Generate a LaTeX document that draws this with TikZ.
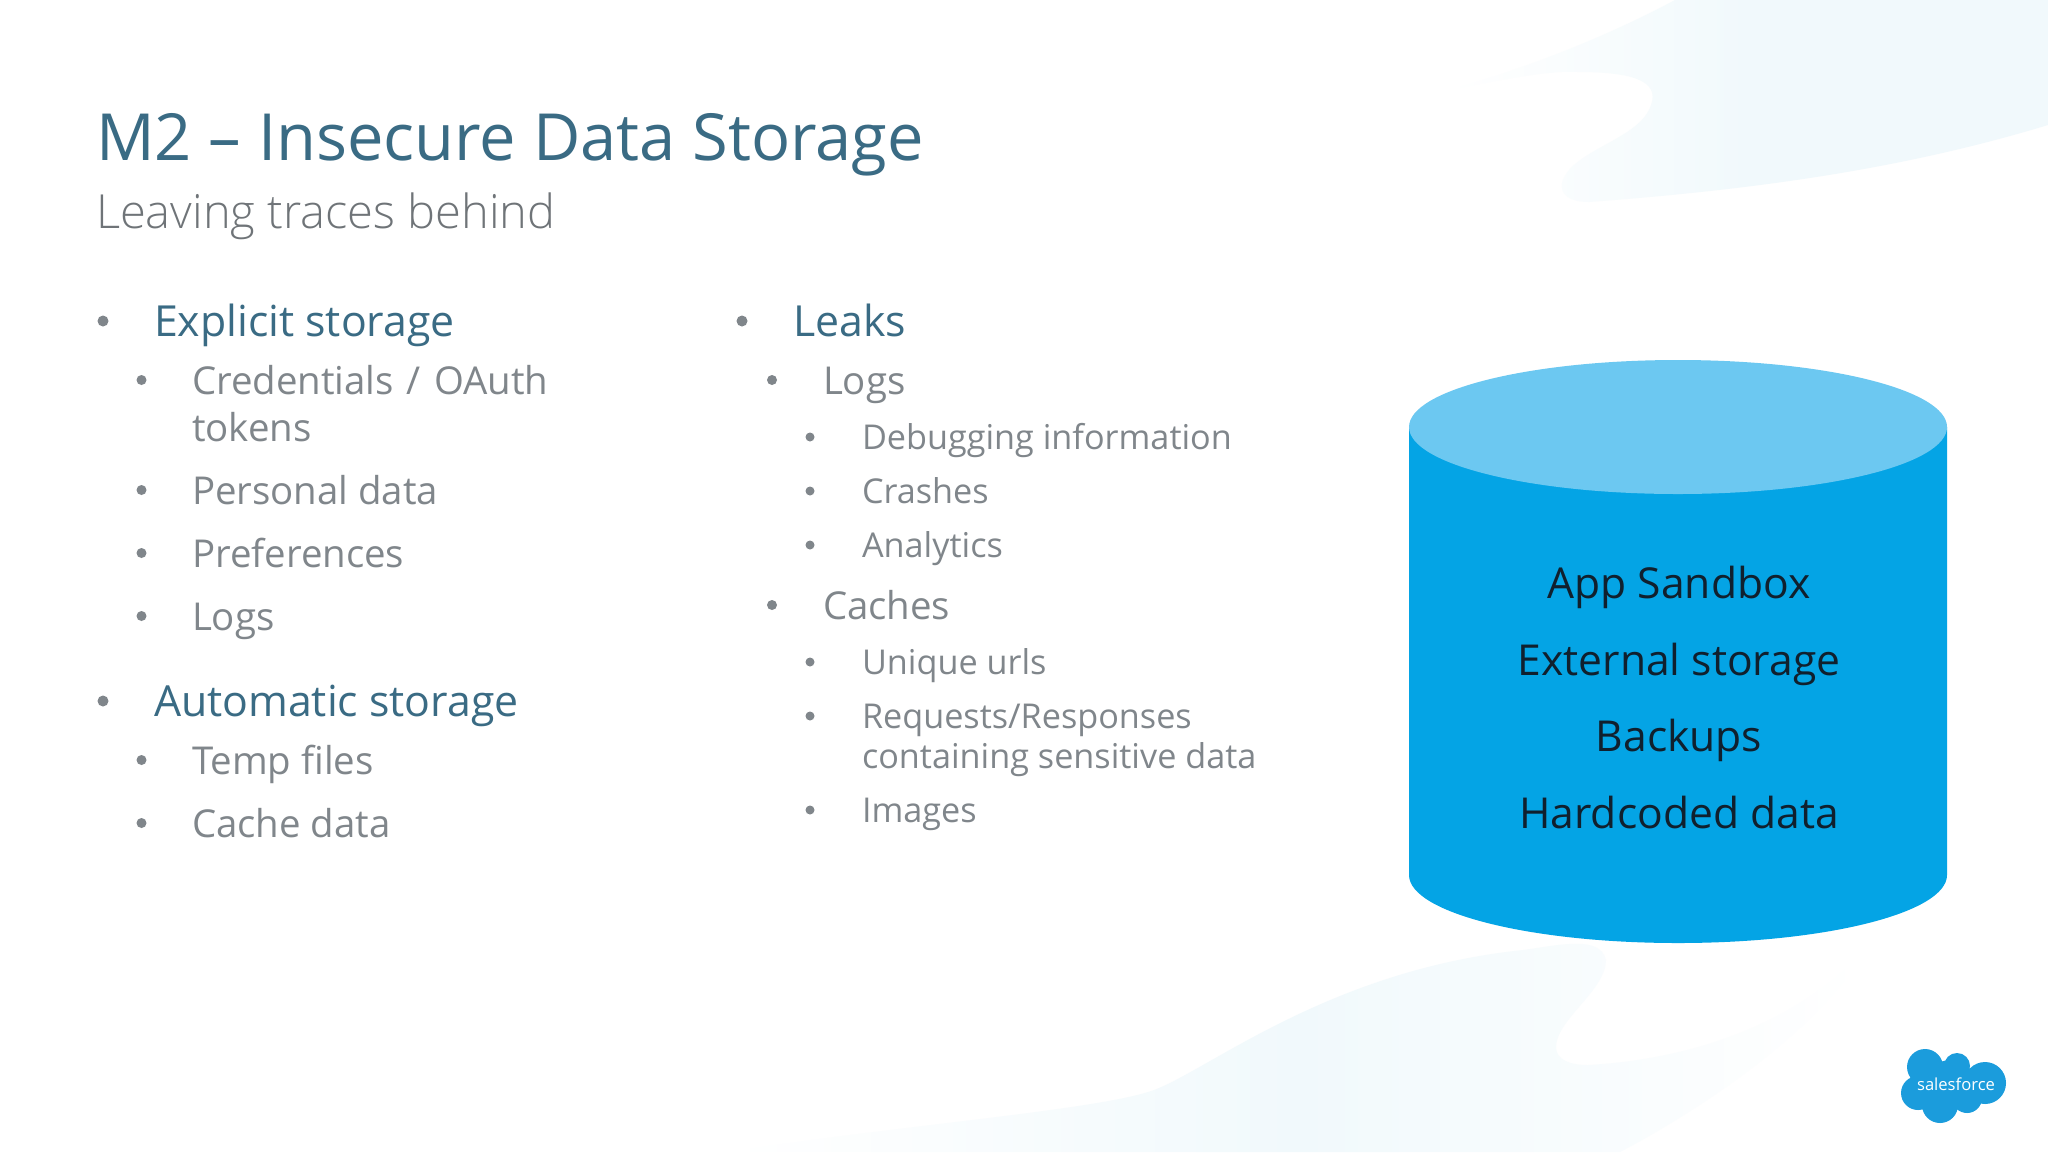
\documentclass[tikz,border=0pt]{standalone}
\usepackage{fontspec}
\setmainfont{Open Sans}
\newfontfamily\lightfont[UprightFont=* Light]{Open Sans}
\usepackage{tikz}
\definecolor{headblue}{HTML}{3A6B84}
\definecolor{itemgray}{HTML}{80868B}
\definecolor{subgray}{HTML}{6F7478}
\definecolor{dotgray}{HTML}{80868B}
\definecolor{sfblue}{HTML}{04A4E5}
\definecolor{sftop}{HTML}{6CC8F1}
\definecolor{cloudblue}{HTML}{1B9CDC}
\definecolor{inkdark}{HTML}{10202E}
\definecolor{wavepale}{HTML}{F1F9FC}

\begin{document}
\begin{tikzpicture}[x=0.5pt,y=-0.5pt,
      every node/.append style={inner sep=0pt,outer sep=0pt},
      title/.style={anchor=base west,text=headblue,font=\fontsize{32.5}{39}\selectfont},
      subtitle/.style={anchor=base west,text=subgray,font=\lightfont\fontsize{23.5}{28}\selectfont},
      head/.style={anchor=base west,text=headblue,font=\fontsize{21.4}{26}\selectfont},
      item/.style={anchor=base west,text=itemgray,font=\fontsize{19.2}{24}\selectfont},
      subitem/.style={anchor=base west,text=itemgray,font=\fontsize{17.1}{21}\selectfont},
      dot/.style={circle,fill=dotgray,minimum size=#1},
      store/.style={anchor=base,text=inkdark,font=\fontsize{21.3}{26}\selectfont}]
    \useasboundingbox (0,0) rectangle (2048,1152);
    \fill[white] (0,0) rectangle (2048,1152);
    \shade[left color=white,right color=wavepale,middle color=wavepale] (1675,0) .. controls (1600,40) and (1520,70) .. (1449,90) .. controls (1500,80) and (1550,70) .. (1578,72) .. controls (1630,72) and (1660,80) .. (1651,105) .. controls (1640,140) and (1570,150) .. (1562,183) .. controls (1560,195) and (1570,202) .. (1589,202) .. controls (1750,190) and (1900,170) .. (2048,125) -- (2048,0) -- cycle;
    \shade[left color=white,right color=white,middle color=wavepale] (729,1152) .. controls (900,1125) and (1100,1110) .. (1154,1090) .. controls (1210,1069) and (1330,970) .. (1523,950) .. controls (1560,945) and (1600,935) .. (1606,960) .. controls (1606,990) and (1556,1020) .. (1556,1047) .. controls (1556,1060) and (1570,1065) .. (1588,1065) .. controls (1680,1060) and (1790,1030) .. (1865,950) .. controls (1820,1030) and (1700,1110) .. (1620,1152) -- cycle;

    \node (title) [title] at (96,160) {M2 – Insecure Data Storage};
    \node (subtitle) [subtitle] at (96,228) {Leaving traces behind};

    \node (explicit) [head] at (154,336) {Explicit storage};
    \node (explicitdot) [dot=5.5pt] at (103,321) {};
    \node (credentials) [item] at (192,394) {Credentials\kern1.5pt{} / \kern1.5pt{}OAuth};
    \node (credentialsdot) [dot=5pt] at (141.5,380) {};
    \node (tokens) [item] at (192,441) {tokens};
    \node (personal) [item] at (192,504) {Personal data};
    \node (personaldot) [dot=5pt] at (141.5,490) {};
    \node (preferences) [item] at (192,567) {Preferences};
    \node (preferencesdot) [dot=5pt] at (141.5,553) {};
    \node (logs) [item] at (192,630) {Logs};
    \node (logsdot) [dot=5pt] at (141.5,616) {};
    \node (automatic) [head] at (154,716) {Automatic storage};
    \node (automaticdot) [dot=5.5pt] at (103,701) {};
    \node (temp) [item] at (192,774) {Temp files};
    \node (tempdot) [dot=5pt] at (141.5,760) {};
    \node (cache) [item] at (192,837) {Cache data};
    \node (cachedot) [dot=5pt] at (141.5,823) {};

    \node (leaks) [head] at (793,336) {Leaks};
    \node (leaksdot) [dot=5.5pt] at (742,321) {};
    \node (leaklogs) [item] at (823,394) {Logs};
    \node (leaklogsdot) [dot=5pt] at (772,380) {};
    \node (debugging) [subitem] at (862,449) {Debugging information};
    \node (debuggingdot) [dot=4.5pt] at (810,437) {};
    \node (crashes) [subitem] at (862,503) {Crashes};
    \node (crashesdot) [dot=4.5pt] at (810,491) {};
    \node (analytics) [subitem] at (862,557) {Analytics};
    \node (analyticsdot) [dot=4.5pt] at (810,545) {};
    \node (caches) [item] at (823,619) {Caches};
    \node (cachesdot) [dot=5pt] at (772,605) {};
    \node (urls) [subitem] at (862,674) {Unique urls};
    \node (urlsdot) [dot=4.5pt] at (810,662) {};
    \node (requests) [subitem] at (862,728) {Requests/Responses};
    \node (requestsdot) [dot=4.5pt] at (810,716) {};
    \node (containing) [subitem] at (862,768) {containing sensitive data};
    \node (images) [subitem] at (862,822) {Images};
    \node (imagesdot) [dot=4.5pt] at (810,810) {};

    \fill[sfblue] (1409,427) -- (1409,875) arc[start angle=180,end angle=360,x radius=269,y radius=-68] -- (1947,427) -- cycle;
    \fill[sftop] (1678,427) ellipse[x radius=269,y radius=67];
    \node (sandbox) [store] at (1679,598) {App Sandbox};
    \node (external) [store] at (1679,675) {External storage};
    \node (backups) [store] at (1679,751) {Backups};
    \node (hardcoded) [store] at (1679,828) {Hardcoded data};

    \fill[cloudblue] (1925,1067) circle[radius=18] (1957,1066) circle[radius=13] (1985,1083) circle[radius=21] (1918,1093) circle[radius=17] (1940,1105) circle[radius=18] (1967,1098) circle[radius=15] (1950,1083) circle[radius=23];
    \node (logo) [text=white,font=\fontsize{8.3}{10}\selectfont] at (1956,1084) {salesforce};
\end{tikzpicture}
\end{document}
